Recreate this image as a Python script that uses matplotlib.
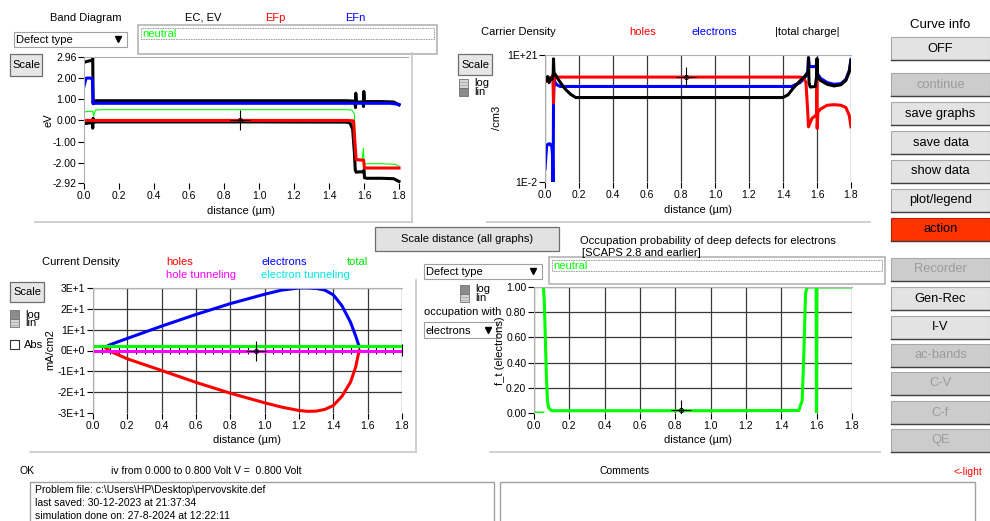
import numpy as np
import matplotlib
matplotlib.use('Agg')
import matplotlib.pyplot as plt
from matplotlib.patches import Rectangle
from matplotlib.ticker import MultipleLocator

plt.rcParams['font.family'] = ['Liberation Sans', 'DejaVu Sans']
plt.rcParams['font.size'] = 7.5

# ---- data ----
dist_ticks = [0.0, 0.2, 0.4, 0.6, 0.8, 1.0, 1.2, 1.4, 1.6, 1.8]
dist_labels = ['0.0', '0.2', '0.4', '0.6', '0.8', '1.0', '1.2', '1.4', '1.6', '1.8']

# band diagram (eV)
band_yticks = [2.96, 2.0, 1.0, 0.0, -1.0, -2.0, -2.92]
band_ylabels = ['2.96', '2.00', '1.00', '0.00', '-1.00', '-2.00', '-2.92']
ec_x = [0.0, 0.01, 0.03, 0.048, 0.05, 0.052, 0.054, 0.07, 0.5, 1.0, 1.5, 1.545, 1.552, 1.553, 1.556,
        1.56, 1.58, 1.595, 1.597, 1.599, 1.602, 1.61, 1.7, 1.77, 1.8]
ec = [2.70, 2.74, 2.78, 2.80, 2.96, 0.80, 0.90, 0.92, 0.92, 0.92, 0.92, 0.90, 0.60, 1.27, 0.85,
      0.85, 0.86, 0.86, 0.65, 1.35, 0.88, 0.88, 0.88, 0.86, 0.72]
ev_x = [0.0, 0.03, 0.048, 0.05, 0.052, 0.056, 0.07, 0.5, 1.0, 1.5, 1.52, 1.535, 1.545, 1.55, 1.555,
        1.57, 1.595, 1.6, 1.603, 1.62, 1.7, 1.77, 1.8]
ev = [-0.15, -0.12, -0.10, -0.36, 0.10, -0.08, -0.07, -0.07, -0.07, -0.08, -0.12, -0.40, -1.50, -2.30, -2.42,
      -2.40, -2.40, -2.32, -2.68, -2.70, -2.70, -2.72, -2.85]
efn_x = [0.0, 0.012, 0.03, 0.048, 0.052, 0.06, 0.5, 1.0, 1.5, 1.6, 1.75, 1.8]
efn = [1.60, 1.97, 1.98, 1.95, 0.78, 0.80, 0.80, 0.80, 0.80, 0.80, 0.80, 0.75]
efp_x = [0.0, 0.5, 1.0, 1.5, 1.54, 1.548, 1.555, 1.58, 1.598, 1.602, 1.7, 1.8]
efp = [0.0, 0.0, 0.0, 0.0, -0.02, -1.0, -1.83, -1.85, -1.85, -2.22, -2.22, -2.22]
defect_x = [0.0, 0.03, 0.05, 0.055, 0.065, 0.1, 0.5, 1.0, 1.5, 1.53, 1.545, 1.552, 1.556, 1.565, 1.59,
            1.597, 1.6, 1.603, 1.61, 1.7, 1.78, 1.8]
defect = [0.40, 0.42, 0.44, 0.20, 0.48, 0.50, 0.50, 0.50, 0.50, 0.48, 0.30, -1.30, -1.75, -1.80, -1.80,
          -1.30, -1.95, -2.05, -2.02, -2.02, -2.05, -2.14]

# carrier density (log10 of /cm3)
holes_x = [0.0, 0.008, 0.016, 0.024, 0.032, 0.04, 0.046, 0.05, 0.052, 0.056, 0.062, 0.07, 0.1, 0.5, 1.0,
           1.5, 1.52, 1.535, 1.545, 1.55, 1.57, 1.59, 1.597, 1.599, 1.601, 1.605, 1.62, 1.66, 1.7, 1.74,
           1.77, 1.79, 1.8]
holes_log = [16.6, 16.2, 17.0, 16.4, 16.9, 16.7, 17.4, 12.3, 16.0, 17.3, 16.8, 17.0, 17.0, 17.0, 17.0,
             17.0, 16.9, 16.0, 11.0, 8.0, 9.5, 10.0, 10.2, 17.0, 7.7, 10.6, 11.2, 11.9, 12.0, 11.9,
             11.5, 10.0, 8.0]
elec_x = [0.0, 0.01, 0.02, 0.03, 0.04, 0.044, 0.046, 0.048, 0.05, 0.053, 0.06, 0.07, 0.09, 0.1, 0.5,
          1.0, 1.45, 1.5, 1.53, 1.545, 1.55, 1.555, 1.565, 1.59, 1.597, 1.6, 1.603, 1.62, 1.66, 1.7,
          1.74, 1.77, 1.79, 1.8]
elec_log = [0.4, 4.6, 4.9, 4.9, 4.4, 3.0, -2.0, -2.0, 12.3, 16.5, 16.0, 15.6, 15.3, 15.3, 15.3,
            15.3, 15.3, 16.0, 17.0, 17.5, 20.5, 18.9, 18.9, 18.9, 19.2, 20.3, 17.6, 16.8, 16.0, 15.7,
            15.8, 16.6, 18.2, 20.2]
charge_x = [0.0, 0.008, 0.016, 0.024, 0.032, 0.04, 0.048, 0.05, 0.053, 0.06, 0.08, 0.1, 0.12, 0.15, 0.18,
            0.2, 0.5, 1.0, 1.4, 1.43, 1.46, 1.5, 1.53, 1.548, 1.55, 1.553, 1.56, 1.59, 1.597, 1.6, 1.603,
            1.62, 1.66, 1.7, 1.74, 1.77, 1.79, 1.8]
charge_log = [16.9, 16.4, 17.1, 16.0, 16.8, 16.5, 17.3, 20.3, 17.8, 17.5, 16.5, 15.6, 14.8, 13.9, 13.3,
              13.3, 13.3, 13.3, 13.3, 13.8, 15.0, 16.3, 17.2, 18.0, 20.5, 16.0, 15.2, 15.3, 17.0, 20.3, 17.3,
              16.4, 15.7, 15.4, 15.6, 16.4, 18.0, 20.0]

# current density (mA/cm2)
cur_yticks = [30, 20, 10, 0, -10, -20, -30]
cur_ylabels = ['3E+1', '2E+1', '1E+1', '0E+0', '-1E+1', '-2E+1', '-3E+1']
jn_x = [0.08, 0.1, 0.2, 0.4, 0.6, 0.8, 1.0, 1.1, 1.2, 1.25, 1.3, 1.35, 1.4, 1.45, 1.5, 1.53, 1.55]
jn = [2.0, 2.8, 5.8, 11.7, 17.3, 22.5, 27.0, 29.0, 30.0, 30.0, 29.8, 29.0, 26.7, 21.5, 13.6, 7.0, 2.0]
jp_x = [0.07, 0.09, 0.1, 0.2, 0.4, 0.6, 0.8, 1.0, 1.1, 1.2, 1.25, 1.3, 1.35, 1.4, 1.45, 1.5, 1.53, 1.55]
jp = [1.5, 0.3, -0.4, -4.0, -9.6, -15.3, -20.5, -25.1, -27.2, -28.8, -29.2, -29.1, -28.3, -26.4, -22.0,
      -15.2, -8.0, 0.0]
jtot_x = [0.0, 1.8]
jtot = [2.1, 2.1]
jtun_x = [0.0, 1.8]
jh_tun = [0.0, 0.0]
je_tun = [0.0, 0.0]

# occupation probability
occ_yticks = [0.0, 0.2, 0.4, 0.6, 0.8, 1.0]
occ_ylabels = ['0.00', '0.20', '0.40', '0.60', '0.80', '1.00']
ft_x = [0.0, 0.05, np.nan, 0.053, 0.058, 0.064, 0.07, 0.076, 0.083, 0.1, 0.5, 1.0, 1.499, 1.518, 1.527,
        1.537, 1.546, 1.597, 1.599, 1.601, 1.8]
ft = [0.0, 0.0, np.nan, 1.0, 0.9, 0.6, 0.3, 0.1, 0.04, 0.018, 0.018, 0.018, 0.02, 0.1, 0.45,
      0.95, 1.0, 1.0, 0.0, 1.0, 1.0]

# curve-info cursors
cursor_band = (0.89, 0.0)
cursor_carrier = (0.83, 1e17)
cursor_current = (0.95, 0.0)
cursor_occ = (0.83, 0.02)

# ---- figure ----
W, H = 990, 521
fig = plt.figure(figsize=(9.9, 5.21), dpi=100)
fig.patch.set_facecolor('white')

gui = fig.add_axes([0, 0, 1, 1])
gui.set_xlim(0, W)
gui.set_ylim(H, 0)
gui.axis('off')


def px_rect(x0, y0, x1, y1):
    return [x0 / W, 1 - y1 / H, (x1 - x0) / W, (y1 - y0) / H]


def button(x0, y0, x1, y1, label, face='#E3E3E3', color='black', edge='#A8A8A8', size=9.3):
    gui.add_patch(Rectangle((x0, y0), x1 - x0, y1 - y0, facecolor=face, edgecolor=edge, lw=0.8))
    gui.plot([x0, x1], [y1, y1], color='#404040', lw=1.0)
    gui.text((x0 + x1) / 2, (y0 + y1) / 2, label, ha='center', va='center', fontsize=size, color=color)


def dropdown(x0, y0, x1, y1, label):
    gui.add_patch(Rectangle((x0, y0), x1 - x0, y1 - y0, facecolor='white', edgecolor='#A0A0A0', lw=0.8))
    gui.text(x0 + 2, (y0 + y1) / 2 + 0.5, label, ha='left', va='center', fontsize=8)
    gui.plot([x1 - 9], [(y0 + y1) / 2 - 0.5], marker='v', ms=5, color='black')


def loglin(x0, y0, log_dark):
    w, h = 9, 17
    top_c, bot_c = ('#8C8C8C', '#D6D6D6') if log_dark else ('#D6D6D6', '#8C8C8C')
    gui.add_patch(Rectangle((x0, y0), w, h / 2, facecolor=top_c, edgecolor='#707070', lw=0.6))
    gui.add_patch(Rectangle((x0, y0 + h / 2), w, h / 2, facecolor=bot_c, edgecolor='#707070', lw=0.6))
    light_y = y0 + h / 2 if log_dark else y0
    for dy in (3, 6):
        gui.plot([x0 + 0.5, x0 + w - 0.5], [light_y + dy, light_y + dy], color='#A8A8A8', lw=0.6)
    gui.text(x0 + 15, y0 + 4.5, 'log', ha='left', va='center', fontsize=8)
    gui.text(x0 + 15, y0 + 13, 'lin', ha='left', va='center', fontsize=8)


def legend_box(x0, y0, x1, y1):
    gui.add_patch(Rectangle((x0, y0), x1 - x0, y1 - y0, facecolor='white', edgecolor='#B4B4B4', lw=1.2))
    gui.add_patch(Rectangle((x0 + 3, y0 + 3), x1 - x0 - 6, 11, facecolor='none', edgecolor='#707070',
                            lw=0.6, ls=(0, (1, 1))))
    gui.text(x0 + 4, y0 + 9, 'neutral', ha='left', va='center', fontsize=8, color='#00FF00')


def scale_button(x0, y0, x1, y1):
    gui.add_patch(Rectangle((x0, y0), x1 - x0, y1 - y0, facecolor='#E6E6E6', edgecolor='#6E6E6E', lw=0.9))
    gui.text((x0 + x1) / 2, (y0 + y1) / 2, 'Scale', ha='center', va='center', fontsize=8)


def cursor(ax, pos):
    ax.plot([pos[0]], [pos[1]], marker='+', ms=14, mew=0.8, color='black', zorder=6)
    ax.plot([pos[0]], [pos[1]], marker='o', ms=3, mfc='none', mew=0.7, color='black', zorder=6)


def style_axes(ax):
    ax.set_xlim(0, 1.8)
    ax.set_xticks(dist_ticks)
    ax.set_xticklabels(dist_labels)
    ax.tick_params(axis='both', direction='out', length=4, width=0.8, pad=1.5, labelsize=7.5)
    ax.tick_params(axis='x', pad=2)
    for side in ('right', 'bottom'):
        ax.spines[side].set_visible(False)
    ax.spines['left'].set_color('#B0B0B0')
    ax.spines['top'].set_color('#B0B0B0')


# panel outlines
panel_c = '#C8C8C8'
gui.plot([35, 412], [222, 222], color=panel_c, lw=1.2)
gui.plot([412, 412], [53, 222], color=panel_c, lw=1.2)
gui.plot([487, 870], [222, 222], color=panel_c, lw=1.2)
gui.plot([416, 416], [280, 452], color=panel_c, lw=1.2)
gui.plot([30, 416], [452, 452], color=panel_c, lw=1.2)
gui.plot([490, 880], [452, 452], color=panel_c, lw=1.2)

# ---- band diagram ----
gui.text(86, 18, 'Band Diagram', ha='center', va='center', fontsize=8)
dropdown(14, 32, 127, 47, 'Defect type')
gui.text(203, 18, 'EC, EV', ha='center', va='center', fontsize=8)
gui.text(275, 18, 'EFp', ha='center', va='center', fontsize=8, color='red')
gui.text(355, 18, 'EFn', ha='center', va='center', fontsize=8, color='blue')
legend_box(138, 25, 437, 54)
scale_button(10, 54, 42, 76)
gui.text(48, 120, 'eV', ha='center', va='center', rotation=90, fontsize=8)
gui.text(241, 211, 'distance (µm)', ha='center', va='center', fontsize=8)

ax_b = fig.add_axes(px_rect(84, 57, 408, 183))
style_axes(ax_b)
ax_b.set_xlim(0, 1.8 * 324 / 315)
ax_b.set_ylim(-2.92, 2.96)
ax_b.set_yticks(band_yticks)
ax_b.set_yticklabels(band_ylabels)
ax_b.plot(defect_x, defect, color='#00FF00', lw=0.8)
ax_b.plot(ec_x, ec, color='black', lw=2.2)
ax_b.plot(ev_x, ev, color='black', lw=2.2)
ax_b.plot(efp_x, efp, color='red', lw=2.2)
ax_b.plot(efn_x, efn, color='blue', lw=2.2)
cursor(ax_b, cursor_band)

# ---- carrier density ----
gui.text(481, 32, 'Carrier Density', ha='left', va='center', fontsize=8)
gui.text(643, 32, 'holes', ha='center', va='center', fontsize=8, color='red')
gui.text(714, 32, 'electrons', ha='center', va='center', fontsize=8, color='blue')
gui.text(807, 32, '|total charge|', ha='center', va='center', fontsize=8)
scale_button(458, 54, 492, 75)
loglin(459, 79, log_dark=False)
gui.text(497, 118, '/cm3', ha='center', va='center', rotation=90, fontsize=8)
gui.text(698, 210, 'distance (µm)', ha='center', va='center', fontsize=8)

ax_c = fig.add_axes(px_rect(545, 55, 851, 182))
ax_c.set_yscale('log')
style_axes(ax_c)
ax_c.set_ylim(1e-2, 1e21)
ax_c.set_yticks([1e21, 1e-2])
ax_c.set_yticklabels(['1E+21', '1E-2'])
ax_c.yaxis.set_minor_locator(plt.NullLocator())
ax_c.grid(axis='x', color='#3A3A3A', lw=0.9)
ax_c.plot(elec_x, 10 ** np.array(elec_log), color='blue', lw=2.2)
ax_c.plot(holes_x, 10 ** np.array(holes_log), color='red', lw=2.2)
ax_c.plot(charge_x, 10 ** np.array(charge_log), color='black', lw=2.2)
cursor(ax_c, cursor_carrier)

# ---- middle ----
gui.add_patch(Rectangle((375, 227), 184, 24, facecolor='#E2E2E2', edgecolor='#6E6E6E', lw=0.9))
gui.text(467, 239, 'Scale distance (all graphs)', ha='center', va='center', fontsize=8)
gui.text(580, 241, 'Occupation probability of deep defects for electrons', ha='left', va='center', fontsize=8)
gui.text(582, 253, '[SCAPS 2.8 and earlier]', ha='left', va='center', fontsize=8)

# ---- current density ----
gui.text(42, 262, 'Current Density', ha='left', va='center', fontsize=8)
gui.text(166, 262, 'holes', ha='left', va='center', fontsize=8, color='red')
gui.text(261, 262, 'electrons', ha='left', va='center', fontsize=8, color='blue')
gui.text(347, 262, 'total', ha='left', va='center', fontsize=8, color='#00E000')
gui.text(166, 275, 'hole tunneling', ha='left', va='center', fontsize=8, color='magenta')
gui.text(261, 275, 'electron tunneling', ha='left', va='center', fontsize=8, color='#00E8E8')
scale_button(10, 282, 44, 302)
loglin(10, 310, log_dark=True)
gui.add_patch(Rectangle((10, 340), 9, 9, facecolor='white', edgecolor='#333333', lw=0.8))
gui.text(24, 345, 'Abs', ha='left', va='center', fontsize=8)
gui.text(50, 350, 'mA/cm2', ha='center', va='center', rotation=90, fontsize=8)
gui.text(247, 440, 'distance (µm)', ha='center', va='center', fontsize=8)

ax_j = fig.add_axes(px_rect(93, 288, 402, 413))
style_axes(ax_j)
ax_j.set_ylim(-30, 30)
ax_j.set_yticks(cur_yticks)
ax_j.set_yticklabels(cur_ylabels)
ax_j.grid(color='#3A3A3A', lw=0.9)
ax_j.yaxis.get_gridlines()[-1].set_visible(False)
ax_j.plot(jp_x, jp, color='red', lw=2.2)
ax_j.plot(jn_x, jn, color='blue', lw=2.2)
ax_j.plot(jtot_x, jtot, color='#00FF00', lw=2.2)
ax_j.plot(jtun_x, je_tun, color='cyan', lw=2.2)
ax_j.plot(jtun_x, jh_tun, color='magenta', lw=2.2)
zero_axis = ax_j.secondary_xaxis(0.5)
zero_axis.set_xticks(dist_ticks)
zero_axis.set_xticklabels([])
zero_axis.xaxis.set_minor_locator(MultipleLocator(0.05))
zero_axis.tick_params(which='major', direction='inout', length=8, width=0.8)
zero_axis.tick_params(which='minor', direction='inout', length=6, width=0.8)
for s in zero_axis.spines.values():
    s.set_visible(False)
cursor(ax_j, cursor_current)

# ---- occupation probability ----
dropdown(424, 264, 542, 279, 'Defect type')
legend_box(549, 257, 885, 284)
loglin(460, 285, log_dark=True)
gui.text(424, 312, 'occupation with', ha='left', va='center', fontsize=8)
dropdown(424, 322, 497, 338, 'electrons')
gui.text(500, 351, 'f_t (electrons)', ha='center', va='center', rotation=90, fontsize=8)
gui.text(698, 440, 'distance (µm)', ha='center', va='center', fontsize=8)

ax_o = fig.add_axes(px_rect(534, 287, 852, 413))
style_axes(ax_o)
ax_o.set_ylim(0, 1)
ax_o.set_yticks(occ_yticks)
ax_o.set_yticklabels(occ_ylabels)
ax_o.grid(color='#3A3A3A', lw=0.9)
ax_o.yaxis.get_gridlines()[0].set_visible(False)
ax_o.plot(ft_x, ft, color='#00FF00', lw=2.2)
cursor(ax_o, cursor_occ)

# ---- right column ----
gui.text(940, 25, 'Curve info', ha='center', va='center', fontsize=9.5)
btn_on = '#E3E3E3'
btn_off = '#CCCCCC'
grey_txt = '#9C9C9C'
button(891, 37, 990, 60, 'OFF')
button(891, 73, 990, 96, 'continue', face=btn_off, color=grey_txt)
button(891, 102, 990, 125, 'save graphs')
button(891, 131, 990, 154, 'save data')
button(891, 160, 990, 183, 'show data')
button(891, 189, 990, 212, 'plot/legend')
button(891, 218, 990, 241, 'action', face='#FF3300', edge='#C02000')
button(891, 258, 990, 281, 'Recorder', face=btn_off, color=grey_txt)
button(891, 287, 990, 310, 'Gen-Rec')
button(891, 316, 990, 339, 'I-V')
button(891, 344, 990, 367, 'ac-bands', face=btn_off, color=grey_txt)
button(891, 372, 990, 395, 'C-V', face=btn_off, color=grey_txt)
button(891, 401, 990, 424, 'C-f', face=btn_off, color=grey_txt)
button(891, 429, 990, 452, 'QE', face=btn_off, color=grey_txt)

# ---- bottom status ----
gui.text(20, 471, 'OK', ha='left', va='center', fontsize=7.5)
gui.text(111, 471, 'iv from 0.000 to 0.800 Volt V =  0.800 Volt', ha='left', va='center', fontsize=7.5)
gui.text(625, 471, 'Comments', ha='center', va='center', fontsize=7.5)
gui.text(968, 472, '<-light', ha='center', va='center', fontsize=7.5, color='red')
gui.add_patch(Rectangle((30, 482), 464, 50, facecolor='white', edgecolor='#A0A0A0', lw=1.0))
gui.add_patch(Rectangle((500, 482), 475, 50, facecolor='white', edgecolor='#A0A0A0', lw=1.0))
gui.text(35, 490, 'Problem file: c:\\Users\\HP\\Desktop\\pervovskite.def', ha='left', va='center', fontsize=7.5)
gui.text(35, 503, 'last saved: 30-12-2023 at 21:37:34', ha='left', va='center', fontsize=7.5)
gui.text(35, 516, 'simulation done on: 27-8-2024 at 12:22:11', ha='left', va='center', fontsize=7.5)

fig.savefig('out.png', dpi=100, facecolor='white')
